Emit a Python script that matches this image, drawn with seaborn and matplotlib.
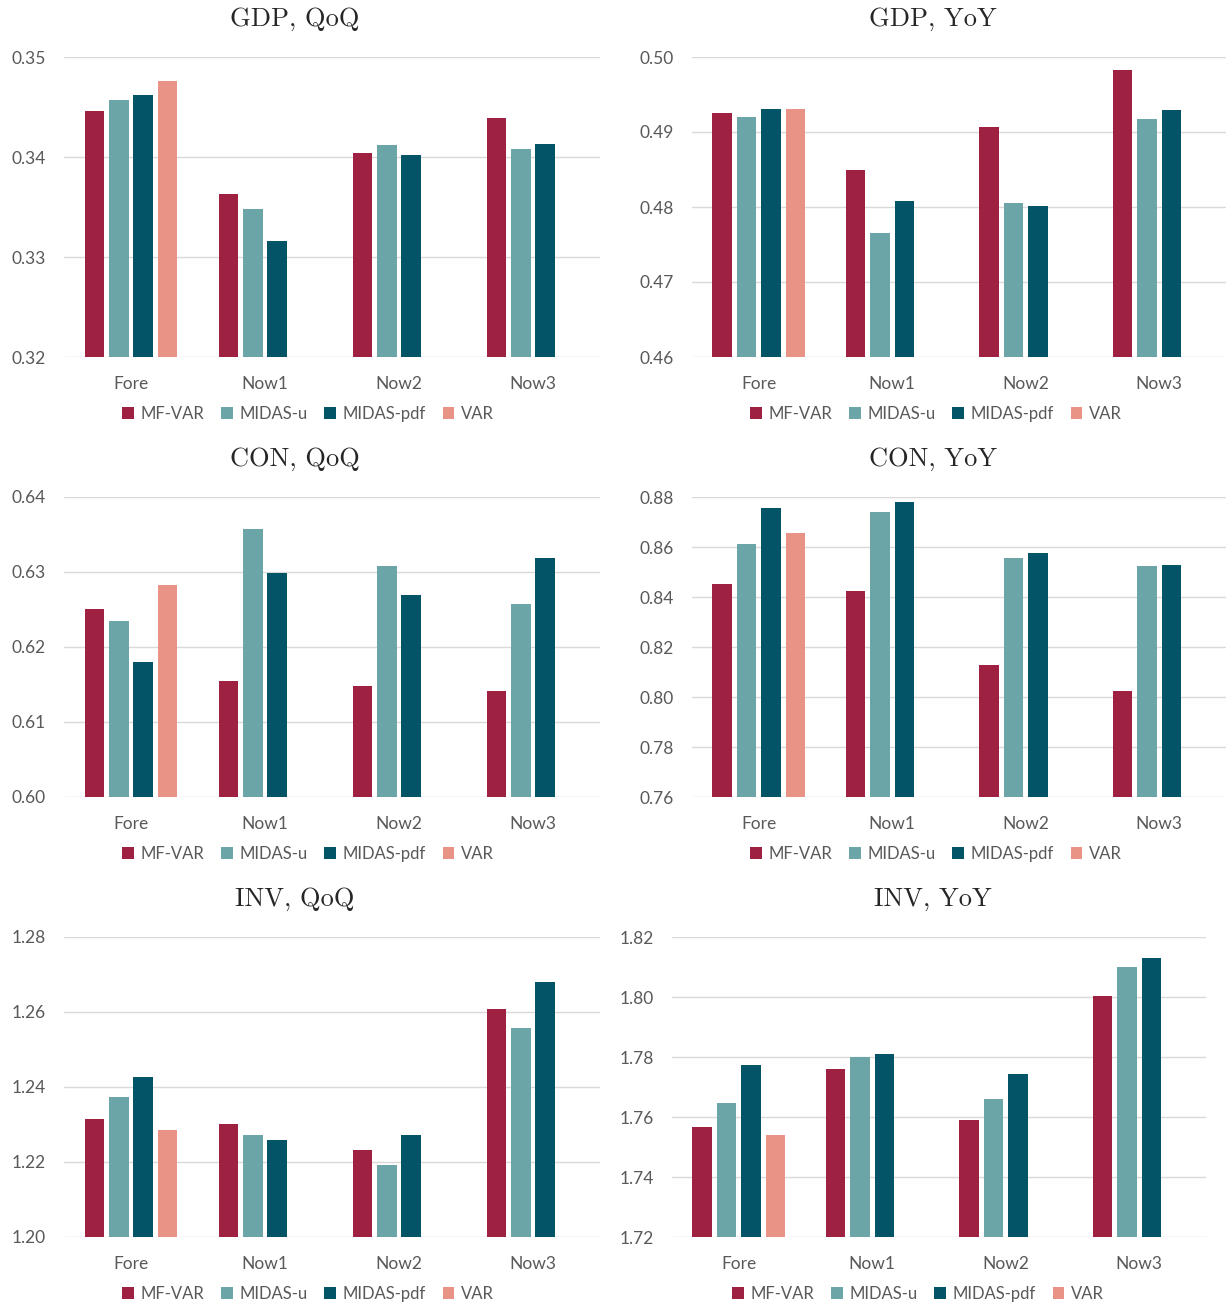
import numpy as np
import pandas as pd
import seaborn as sns
import matplotlib.pyplot as plt
from matplotlib.ticker import FormatStrFormatter

categories = ['Fore', 'Now1', 'Now2', 'Now3']
models = ['MF-VAR', 'MIDAS-u', 'MIDAS-pdf', 'VAR']
colors = ['#9E2141', '#6BA5A8', '#045468', '#E99386']

# values per model: Fore, Now1, Now2, Now3 (VAR only has Fore)
gdp_qoq = {'MF-VAR': [0.3446, 0.3363, 0.3404, 0.3439],
           'MIDAS-u': [0.3457, 0.3348, 0.3412, 0.3408],
           'MIDAS-pdf': [0.3462, 0.3316, 0.3402, 0.3413],
           'VAR': [0.3476]}
gdp_yoy = {'MF-VAR': [0.4925, 0.4849, 0.4907, 0.4983],
           'MIDAS-u': [0.4920, 0.4765, 0.4805, 0.4917],
           'MIDAS-pdf': [0.4931, 0.4808, 0.4801, 0.4929],
           'VAR': [0.4931]}
con_qoq = {'MF-VAR': [0.6251, 0.6155, 0.6148, 0.6141],
           'MIDAS-u': [0.6235, 0.6357, 0.6308, 0.6257],
           'MIDAS-pdf': [0.6180, 0.6299, 0.6269, 0.6319],
           'VAR': [0.6283]}
con_yoy = {'MF-VAR': [0.8452, 0.8424, 0.8128, 0.8024],
           'MIDAS-u': [0.8612, 0.8740, 0.8556, 0.8524],
           'MIDAS-pdf': [0.8756, 0.8780, 0.8576, 0.8528],
           'VAR': [0.8656]}
inv_qoq = {'MF-VAR': [1.2315, 1.2301, 1.2232, 1.2608],
           'MIDAS-u': [1.2373, 1.2272, 1.2192, 1.2557],
           'MIDAS-pdf': [1.2427, 1.2259, 1.2272, 1.2680],
           'VAR': [1.2285]}
inv_yoy = {'MF-VAR': [1.7566, 1.7760, 1.7590, 1.8004],
           'MIDAS-u': [1.7647, 1.7799, 1.7661, 1.8099],
           'MIDAS-pdf': [1.7772, 1.7811, 1.7743, 1.8129],
           'VAR': [1.7539]}

titles = ['GDP, QoQ', 'GDP, YoY', 'CON, QoQ', 'CON, YoY', 'INV, QoQ', 'INV, YoY']
panels = [gdp_qoq, gdp_yoy, con_qoq, con_yoy, inv_qoq, inv_yoy]
yticks = [np.arange(0.32, 0.3501, 0.01), np.arange(0.46, 0.5001, 0.01),
          np.arange(0.60, 0.6401, 0.01), np.arange(0.76, 0.8801, 0.02),
          np.arange(1.20, 1.2801, 0.02), np.arange(1.72, 1.8201, 0.02)]

sns.set_style('white')
plt.rcParams['font.family'] = ['Lato', 'DejaVu Sans']

W, H = 1226, 1306
fig = plt.figure(figsize=(W / 100, H / 100), dpi=100)

# axes boxes in pixels: left, top, width
boxes = [(64, 57, 536), (692, 57, 534),
         (64, 497, 536), (692, 497, 534),
         (64, 937, 536), (672, 937, 534)]
title_x = [295, 933, 295, 933, 295, 933]
legend_cx = [308, 936, 308, 936, 308, 918]
grey = '#595959'

for i, (data, title, ticks) in enumerate(zip(panels, titles, yticks)):
    left, top, width = boxes[i]
    ax = fig.add_axes([left / W, (H - top - 300) / H, width / W, 300 / H])
    rows = []
    for m in models:
        for c, v in zip(categories, data[m]):
            rows.append({'cat': c, 'model': m, 'value': v})
    df = pd.DataFrame(rows)
    sns.barplot(data=df, x='cat', y='value', hue='model', order=categories,
                hue_order=models, palette=colors, width=0.73, gap=0.2,
                linewidth=0, saturation=1, ax=ax, legend=True)
    ax.set_xlim(-0.5, 3.5)
    ax.set_ylim(ticks[0], ticks[-1])
    ax.set_yticks(ticks)
    ax.yaxis.set_major_formatter(FormatStrFormatter('%.2f'))
    ax.set_xlabel('')
    ax.set_ylabel('')
    ax.grid(axis='y', color='#D9D9D9', linewidth=1)
    ax.set_axisbelow(True)
    for s in ax.spines.values():
        s.set_visible(False)
    ax.tick_params(axis='x', length=0, pad=14, labelsize=12.5, labelcolor=grey)
    ax.tick_params(axis='y', length=0, pad=13, labelsize=12.5, labelcolor=grey)
    fig.text(title_x[i] / W, 1 - (19 + 440 * (i // 2)) / H, title,
             ha='center', va='center', fontsize=19, family='cmr10')
    legend_x = (legend_cx[i] - left) / width
    sns.move_legend(ax, 'center', bbox_to_anchor=(legend_x, -0.19), ncol=4,
                    frameon=False, title=None, fontsize=12,
                    handlelength=0.7, handleheight=0.7, handletextpad=0.4,
                    columnspacing=1.0, labelcolor=grey)

fig.savefig('out.png', dpi=100)
